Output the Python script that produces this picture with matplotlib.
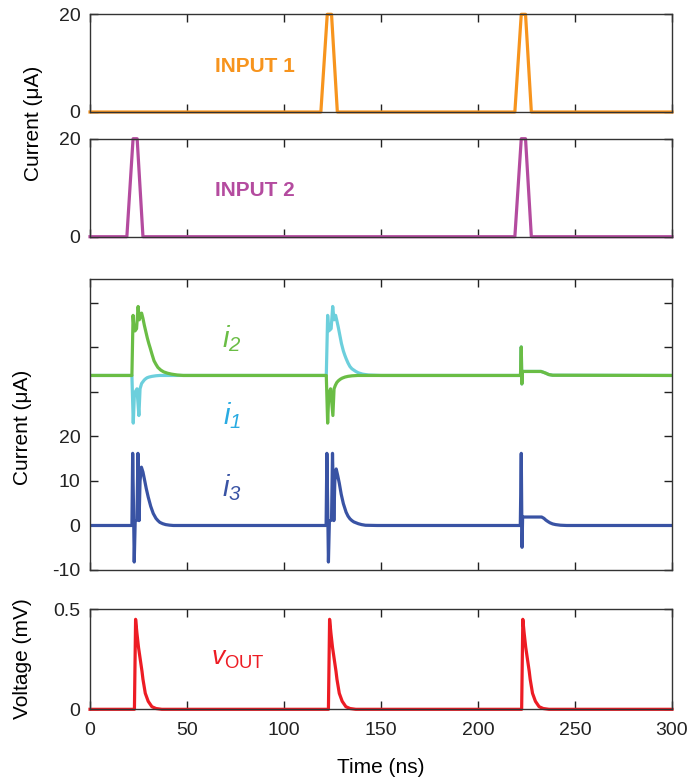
"""Neuron-like circuit response: two current inputs, branch currents and output voltage."""
import matplotlib
matplotlib.use('Agg')
import matplotlib.pyplot as plt

plt.rcParams['font.family'] = ['Liberation Sans', 'DejaVu Sans']
plt.rcParams['mathtext.fontset'] = 'custom'
plt.rcParams['mathtext.rm'] = 'Liberation Sans'
plt.rcParams['mathtext.it'] = 'Liberation Sans:italic'
# mathtext forces digits in \mathit upright, so sf is used for italic subscripts
plt.rcParams['mathtext.sf'] = 'Liberation Sans:italic'

# --- data (time in ns) ---
t_in1 = [0, 119, 122.3, 124.5, 127.5, 219, 222.3, 224.5, 227.5, 300]
input1 = [0, 0, 20, 20, 0, 0, 20, 20, 0, 0]
t_in2 = [0, 19, 22.2, 24.3, 27.3, 219, 222.3, 224.5, 227.5, 300]
input2 = [0, 0, 20, 20, 0, 0, 20, 20, 0, 0]

# i2 (green), relative to its own baseline
t_i2 = [0, 21.6, 22.2, 22.6, 23.2, 24.0, 24.8, 25.4, 26.0, 26.6, 27.3, 28, 28.8, 29.5, 30.3, 31, 32,
        33, 34, 35, 36.5, 38, 40, 42, 45, 48,
        121.8, 122.5, 123.1, 124.0, 125.2, 125.8, 126.5, 127.2, 128, 129, 130, 131.5, 133, 135, 138,
        221.9, 222.3, 222.6, 222.9, 232.5, 233.8, 235, 236.5, 238.5, 300]
i2 = [0, 0, 13.5, 11, 10, 10.5, 15.5, 12.5, 13.5, 14.0, 12.8, 11.3, 9.8, 8.5, 7.2, 6.2, 4.7,
      3.3, 2.5, 1.8, 1.2, 0.8, 0.5, 0.3, 0.1, 0,
      0, -10.7, -4, -3, -9, -3, -2.2, -1.6, -1.2, -0.85, -0.6, -0.35, -0.2, -0.08, 0,
      0, 6.4, -1.9, 0.9, 0.9, 0.7, 0.5, 0.2, 0.05, 0]

# i1 (cyan), relative to the same baseline
t_i1 = [0, 21.6, 22.3, 22.9, 24.2, 25.2, 25.8, 26.6, 27.3, 28, 28.8, 29.5, 30.5, 32, 34, 36,
        121.8, 122.5, 123.1, 124.3, 125.1, 125.8, 126.6, 127.3, 128, 128.8, 129.6, 130.6, 131.3, 132,
        133, 134, 135, 136, 137, 138.3, 140.5, 143.5, 150,
        221.9, 222.3, 222.6, 222.9, 232.5, 233.8, 235, 236.5, 238.5, 300]
i1 = [0, 0, -10.7, -4, -3, -9, -3, -1.8, -1.4, -1.0, -0.7, -0.5, -0.35, -0.2, -0.07, 0,
      0, 13.5, 10, 10.5, 15.5, 12.5, 13.5, 12.2, 10.8, 9.0, 7.2, 5.5, 4.6, 3.8,
      2.8, 2.0, 1.5, 1.2, 0.9, 0.6, 0.3, 0.1, 0,
      0, 6.4, -1.9, 0.9, 0.9, 0.7, 0.5, 0.2, 0.05, 0]

# i3 (blue)
t_i3 = [0, 21.6, 22.0, 22.4, 22.8, 23.3, 24.2, 24.7, 25.3, 25.8, 26.5, 27.3, 28, 29, 30, 31.3,
        32.6, 34, 35, 36, 37.5, 39, 41, 43,
        121.7, 122.1, 122.5, 122.9, 123.4, 124.5, 125.0, 125.7, 126.2, 126.9, 127.7, 128.5, 129.5,
        130.6, 132, 133, 134, 135, 136, 138.3, 140, 142, 148,
        221.8, 222.3, 222.7, 223.0, 232.8, 234, 235, 236, 237.1, 238.5, 240, 242.5, 245.7, 300]
i3 = [0, 0, 16.2, 5, -8.2, 1.0, 1.2, 16.2, 1.1, 10, 13.1, 12.0, 10.5, 8.3, 6.4, 4.3,
      2.7, 1.6, 1.1, 0.7, 0.4, 0.2, 0.07, 0,
      0, 16.2, 5, -8.2, 1.0, 1.2, 16.2, 1.1, 10, 12.7, 11.2, 9.5, 7.0,
      4.9, 3.0, 2.1, 1.5, 1.1, 0.8, 0.4, 0.2, 0.05, 0,
      0, 16.2, -4.9, 1.9, 1.9, 1.6, 1.2, 0.9, 0.6, 0.35, 0.2, 0.06, 0, 0]

# output voltage (mV)
t_v = [0, 22.9, 23.5, 24.2, 25, 25.6, 26.2, 26.8, 27.3, 28.5, 30, 31.9, 34, 37,
       122.9, 123.5, 124.2, 125, 125.6, 126.2, 126.8, 127.3, 128.5, 130, 131.9, 134, 137,
       222.5, 223.1, 223.8, 224.6, 225.2, 225.8, 226.4, 226.9, 228.1, 229.6, 231.5, 233.6, 236.6, 300]
vout = [0, 0, 0.45, 0.38, 0.31, 0.27, 0.23, 0.19, 0.15, 0.08, 0.04, 0.013, 0.004, 0,
        0, 0.45, 0.38, 0.31, 0.27, 0.23, 0.19, 0.15, 0.08, 0.04, 0.013, 0.004, 0,
        0, 0.45, 0.38, 0.31, 0.27, 0.23, 0.19, 0.15, 0.08, 0.04, 0.013, 0.004, 0, 0]

I12_OFFSET = 33.7  # i1/i2 are shifted up for display

x_ticks = [0, 50, 100, 150, 200, 250, 300]

ORANGE = '#f7941d'
PURPLE = '#b44b9f'
GREEN = '#6abd45'
CYAN = '#6ccfdc'
CYAN_TXT = '#29abe2'
BLUE = '#3953a4'
RED = '#ed1c24'
LW = 2.3
W, H = 691, 779


def make_axes(fig, top, bottom):
    """Add an axes using pixel positions from the reference."""
    left, right = 90, 672
    ax = fig.add_axes([left / W, 1 - bottom / H, (right - left) / W, (bottom - top) / H])
    ax.set_xlim(0, 300)
    ax.set_xticks(x_ticks)
    ax.tick_params(direction='in', length=6, width=1, top=True, right=True,
                   labelsize=14, pad=7, colors='#222222')
    ax.tick_params(axis='x', pad=9)
    for sp in ax.spines.values():
        sp.set_linewidth(1)
        sp.set_color('#333333')
    return ax


fig = plt.figure(figsize=(W / 100, H / 100), dpi=100)

# INPUT 1
ax1 = make_axes(fig, 14.3, 112)
ax1.plot(t_in1, input1, color=ORANGE, lw=LW, clip_on=False)
ax1.set_ylim(0, 20)
ax1.set_yticks([0, 20])
ax1.set_xticklabels([])
ax1.text(85, 9.4, 'INPUT 1', color=ORANGE, fontsize=15, fontweight='bold', ha='center', va='center')

# INPUT 2
ax2 = make_axes(fig, 138.7, 236.7)
ax2.plot(t_in2, input2, color=PURPLE, lw=LW, clip_on=False)
ax2.set_ylim(0, 20)
ax2.set_yticks([0, 20])
ax2.set_xticklabels([])
ax2.text(85, 9.5, 'INPUT 2', color=PURPLE, fontsize=15, fontweight='bold', ha='center', va='center')

fig.text(33.5 / W, 1 - 123 / H, 'Current (μA)', rotation=90, ha='center', va='center', fontsize=15)

# branch currents
ax3 = make_axes(fig, 279.3, 570)
ax3.plot(t_i1, [v + I12_OFFSET for v in i1], color=CYAN, lw=LW)
ax3.plot(t_i2, [v + I12_OFFSET for v in i2], color=GREEN, lw=LW)
ax3.plot(t_i3, i3, color=BLUE, lw=LW)
ax3.set_ylim(-10, 55.3)
ax3.set_yticks([-10, 0, 10, 20, 30, 40, 50])
ax3.set_yticklabels(['-10', '0', '10', '20', '', '', ''])
ax3.set_xticklabels([])
ax3.text(73, 42, r'$i_{\mathsf{2}}$', color=GREEN, fontsize=21, ha='center', va='center')
ax3.text(73, 24.7, r'$i_{\mathsf{1}}$', color=CYAN_TXT, fontsize=21, ha='center', va='center')
ax3.text(73, 8.6, r'$i_{\mathsf{3}}$', color=BLUE, fontsize=21, ha='center', va='center')
fig.text(23 / W, 1 - 427 / H, 'Current (μA)', rotation=90, ha='center', va='center', fontsize=15)

# output voltage
ax4 = make_axes(fig, 609.3, 709.3)
ax4.plot(t_v, vout, color=RED, lw=LW, clip_on=False)
ax4.set_ylim(0, 0.5)
ax4.set_yticks([0, 0.5])
ax4.set_yticklabels(['0', '0.5'])
ax4.text(76, 0.25, r'$v_{\mathrm{OUT}}$', color=RED, fontsize=19, ha='center', va='center')
ax4.set_xlabel('Time (ns)', fontsize=15, labelpad=14)
fig.text(23 / W, 1 - 659 / H, 'Voltage (mV)', rotation=90, ha='center', va='center', fontsize=15)

fig.savefig('out.png', dpi=100)
